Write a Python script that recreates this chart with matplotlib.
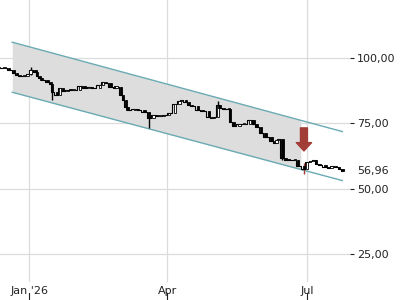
import pandas as pd
import matplotlib
matplotlib.use("Agg")
import matplotlib.pyplot as plt
import matplotlib.transforms as mtransforms

# daily closes
dates = ["2025-12-12", "2025-12-16", "2025-12-19", "2025-12-22", "2025-12-24", "2025-12-26",
         "2025-12-29", "2025-12-31", "2026-01-02", "2026-01-05", "2026-01-06", "2026-01-08",
         "2026-01-09", "2026-01-13", "2026-01-15", "2026-01-16", "2026-01-19", "2026-01-21",
         "2026-01-23", "2026-01-26", "2026-01-28", "2026-01-30", "2026-02-03", "2026-02-06",
         "2026-02-09", "2026-02-11", "2026-02-16", "2026-02-18", "2026-02-20", "2026-02-23",
         "2026-02-26", "2026-02-27", "2026-03-02", "2026-03-03", "2026-03-05", "2026-03-06",
         "2026-03-11", "2026-03-13", "2026-03-17", "2026-03-20", "2026-03-23", "2026-03-25",
         "2026-03-27", "2026-03-30", "2026-04-02", "2026-04-06", "2026-04-09", "2026-04-10",
         "2026-04-13", "2026-04-15", "2026-04-17", "2026-04-21", "2026-04-24", "2026-04-28",
         "2026-04-30", "2026-05-01", "2026-05-04", "2026-05-05", "2026-05-08", "2026-05-11",
         "2026-05-12", "2026-05-14", "2026-05-18", "2026-05-21", "2026-05-25", "2026-05-27",
         "2026-05-29", "2026-06-01", "2026-06-04", "2026-06-08", "2026-06-10", "2026-06-11",
         "2026-06-12", "2026-06-15", "2026-06-17", "2026-06-19", "2026-06-23", "2026-06-25",
         "2026-06-29", "2026-07-01", "2026-07-03", "2026-07-06", "2026-07-07", "2026-07-09",
         "2026-07-13", "2026-07-15", "2026-07-17", "2026-07-20", "2026-07-22", "2026-07-24"]
closes = [96.2, 96.2, 95.4, 94.3, 93.5, 93.1,
          93.1, 93.9, 95.4, 94.7, 93.1, 92.4,
          91.6, 90.8, 90.1, 87.0, 85.9, 88.5,
          87.4, 87.8, 87.6, 87.8, 89.3, 88.5,
          88.9, 88.5, 89.7, 90.8, 90.5, 88.9,
          88.7, 88.9, 85.9, 84.0, 81.3, 80.2,
          80.5, 80.2, 79.4, 77.1, 78.2, 77.9,
          77.9, 78.3, 79.0, 82.5, 83.6, 84.0,
          83.2, 82.0, 81.7, 80.2, 79.6, 77.5,
          76.9, 77.3, 82.1, 80.9, 80.5, 80.5,
          75.6, 74.0, 74.6, 74.8, 76.3, 74.6,
          73.8, 71.5, 69.8, 68.3, 67.6, 68.7,
          69.1, 62.0, 61.1, 60.9, 61.1, 58.9,
          57.8, 60.3, 60.7, 60.9, 59.6, 59.2,
          58.4, 58.0, 58.6, 58.3, 57.7, 56.96]
# visible wicks
wick_dates = ["2026-01-02", "2026-01-16", "2026-03-20", "2026-05-04", "2026-06-15", "2026-06-29"]
wick_lows = [93.4, 84.0, 73.3, 80.9, 61.0, 55.7]
wick_highs = [96.6, 87.4, 78.0, 83.5, 64.3, 60.0]

chan_dates = ["2025-12-21", "2026-07-24"]
chan_upper = [106.0, 71.9]
chan_lower = [86.9, 53.2]
fill_end = "2026-06-27"

arrow_date = "2026-06-29"
arrow_from, arrow_to = 73.3, 64.5
last_price = 56.96

yticks = [25, 50, 75, 100]
xticks = ["2026-01-01", "2026-04-01", "2026-07-01"]
xlabels = ["Jan '26", "Apr", "Jul"]

d = pd.to_datetime(dates)
opens = [closes[0]] + closes[:-1]

fig = plt.figure(figsize=(4, 3), dpi=100)
ax = fig.add_axes([0, 0.06, 0.875, 0.94])

# trend channel
cd = pd.to_datetime(chan_dates)
fe = pd.Timestamp(fill_end)
frac = (fe - cd[0]) / (cd[1] - cd[0])
up_fe = chan_upper[0] + frac * (chan_upper[1] - chan_upper[0])
lo_fe = chan_lower[0] + frac * (chan_lower[1] - chan_lower[0])
ax.fill_between([cd[0], fe], [chan_lower[0], lo_fe], [chan_upper[0], up_fe],
                color="#dddddd", lw=0, zorder=1)
ax.plot(cd, chan_upper, color="#6aaab3", lw=1, zorder=2)
ax.plot(cd, chan_lower, color="#6aaab3", lw=1, zorder=2)

# candles
ax.step(d, closes, where="mid", color="black", lw=0.8, zorder=3)
wd = pd.to_datetime(wick_dates)
red = "#a23c37"
for t, lo, hi in zip(wd, wick_lows, wick_highs):
    col = red if t == pd.Timestamp(arrow_date) else "black"
    ax.vlines(t, lo, hi, color=col, lw=1, zorder=3)
for t, o, c in zip(d, opens, closes):
    up = c >= o
    h = max(abs(c - o), 0.4)
    ax.bar(t, h, bottom=min(o, c), width=1.6, color="white" if up else "black",
           edgecolor="black", lw=0.6, zorder=4)

# signal arrow
ax.annotate("", xy=(pd.Timestamp(arrow_date), arrow_to),
            xytext=(pd.Timestamp(arrow_date), arrow_from),
            arrowprops=dict(arrowstyle="simple,head_width=11,head_length=6,tail_width=5",
                            mutation_scale=1, color=red, shrinkA=0, shrinkB=0), zorder=5)

ax.set_xlim(pd.Timestamp("2025-12-13"), pd.Timestamp("2026-07-29"))
ax.set_ylim(14.5, 122.1)

ax.set_yticks(yticks)
ax.set_yticklabels([f"{v:.2f}".replace(".", ",") for v in yticks])
ax.yaxis.tick_right()
ax.tick_params(axis="y", length=3, width=0.8, pad=2, labelsize=8,
               colors="#222222", direction="out")
ax.set_xticks(pd.to_datetime(xticks))
ax.set_xticklabels(xlabels)
ax.tick_params(axis="x", length=0, pad=3, labelsize=8, labelcolor="#222222")
ax.grid(True, color="#dcdcdc", lw=0.9)
ax.set_axisbelow(True)
for s in ax.spines.values():
    s.set_visible(False)

# small tick marks under the date labels
trans = mtransforms.blended_transform_factory(ax.transData, ax.transAxes)
for t in pd.to_datetime(xticks):
    ax.plot([t, t], [-0.04, -0.06], color="#222222", lw=0.8, transform=trans, clip_on=False)

ax.annotate(f"{last_price:.2f}".replace(".", ","), xy=(1, last_price),
            xycoords=("axes fraction", "data"), xytext=(5, 0), textcoords="offset points",
            va="center", ha="left", fontsize=8, color="#222222")

fig.savefig("out.png", dpi=100)
